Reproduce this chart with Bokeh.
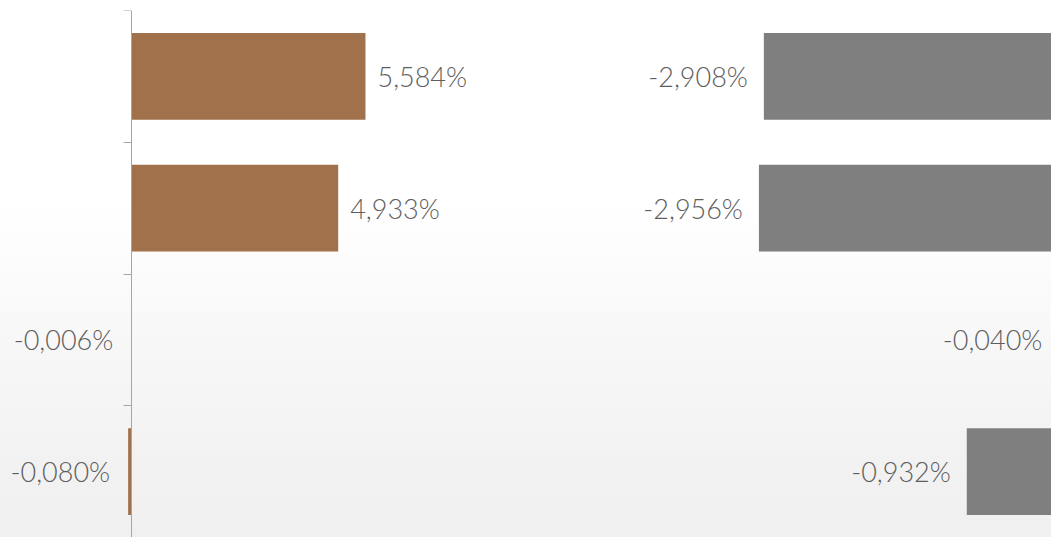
from bokeh.plotting import figure
from bokeh.models import ColumnDataSource, Range1d, LinearAxis, FixedTicker, CustomJSTickFormatter
from bokeh.core.properties import value
from bokeh.embed import file_html
from bokeh.resources import INLINE

# ---- data ----
categories = ["Row 1", "Row 2", "Row 3", "Row 4"]
left_values = [5.584, 4.933, -0.006, -0.080]
right_values = [-2.908, -2.956, -0.040, -0.932]

def fmt(v):
    return f"{v:.3f}%".replace(".", ",")

left_labels = [fmt(v) for v in left_values]
right_labels = [fmt(v) for v in right_values]

BROWN = "#A0714A"
GRAY = "#7F7F7F"
TEXT = "#5E5E5E"
AXIS = "#A6A6A6"
FONT = "Lato Light, Lato"

W, H = 1051, 537
frame_left = 0

ypos = [i + 0.5 for i in range(len(categories))]

# left panel scale: 0 at x=131, ~41.9 px per %
lpx = 41.9
left_start = (frame_left - 131) / lpx
left_end = (W - 131) / lpx
# right panel scale: 0 at x=1062 (just off the right edge), ~102.7 px per %
rpx = 102.7
right_start = (frame_left - 1062) / rpx
right_end = (W - 1062) / rpx

p = figure(width=W, height=H, output_backend="svg", toolbar_location=None,
           x_range=Range1d(left_start, left_end), y_range=Range1d(len(categories), 0),
           x_axis_location=None, y_axis_location=None,
           min_border_left=0, min_border_right=0, min_border_top=10, min_border_bottom=0)
p.extra_x_ranges = {"right": Range1d(right_start, right_end)}
p.grid.visible = False
p.outline_line_color = None
p.background_fill_alpha = 0
p.border_fill_alpha = 0
p.styles = {"background": "linear-gradient(to bottom, #ffffff 0%, #ffffff 38%, #f8f8f8 62%, #f2f2f2 85%, #f0f0f0 100%)"}

src_l = ColumnDataSource(dict(y=ypos, v=left_values, lab=left_labels))
src_r = ColumnDataSource(dict(y=ypos, v=right_values, lab=right_labels))

p.hbar(y="y", left=0, right="v", height=0.66, source=src_l, fill_color=BROWN, line_color=None)
p.hbar(y="y", left=0, right="v", height=0.66, source=src_r, fill_color=GRAY, line_color=None,
       x_range_name="right")

# labels
pos_idx = [i for i, v in enumerate(left_values) if v >= 0]
neg_idx = [i for i, v in enumerate(left_values) if v < 0]
src_lp = ColumnDataSource(dict(x=[left_values[i] for i in pos_idx], y=[ypos[i] for i in pos_idx],
                               t=[left_labels[i] for i in pos_idx]))
src_ln = ColumnDataSource(dict(x=[left_values[i] for i in neg_idx], y=[ypos[i] for i in neg_idx],
                               t=[left_labels[i] for i in neg_idx]))
common = dict(text_font=value(FONT), text_font_size="27px", text_color=TEXT, text_baseline="middle")
p.text(x="x", y="y", text="t", source=src_lp, text_align="left", x_offset=12, **common)
p.text(x="x", y="y", text="t", source=src_ln, text_align="right", x_offset=-18, **common)
p.text(x="v", y="y", text="lab", source=src_r, text_align="right", x_offset=-16,
       x_range_name="right", **common)

# category axis line at x = 0 with ticks at category boundaries
ax = LinearAxis(fixed_location=0)
ax.ticker = FixedTicker(ticks=list(range(len(categories) + 1)))
ax.formatter = CustomJSTickFormatter(code="return ''")
ax.axis_line_color = AXIS
ax.major_tick_line_color = AXIS
ax.major_tick_out = 8
ax.major_tick_in = 0
ax.minor_tick_line_color = None
ax.major_label_standoff = 0
p.add_layout(ax, "left")

open("out.html", "w").write(file_html(p, INLINE))
